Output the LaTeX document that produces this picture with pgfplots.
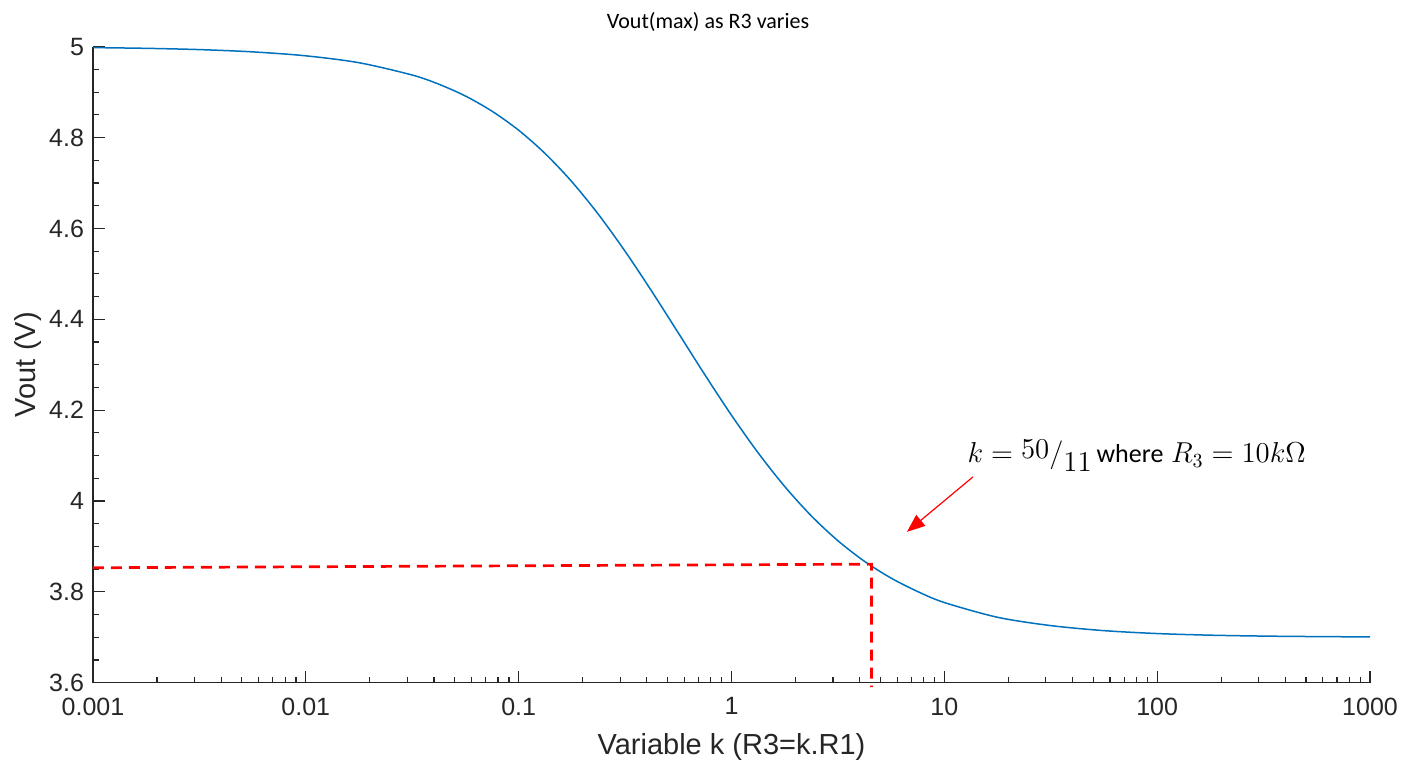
\documentclass[border=0pt]{standalone}
\usepackage{fontspec}
\setmainfont{Liberation Sans}
\newfontfamily\calibri{Carlito}
\usepackage{pgfplots}
\pgfplotsset{compat=1.18}
\usetikzlibrary{arrows.meta}
\definecolor{mblue}{RGB}{0,114,189}
\definecolor{axgray}{RGB}{38,38,38}
\begin{document}
\begin{tikzpicture}
\useasboundingbox (-46.5pt,-41.15pt) rectangle (661.5pt,341.35pt);
\begin{axis}[
  scale only axis,
  width=638.5pt, height=318pt,
  xmode=log,
  xmin=0.001, xmax=1000,
  ymin=3.6, ymax=5,
  axis x line*=bottom, axis y line*=left,
  axis line style={axgray, line width=0.7pt, -},
  tick style={axgray, line width=0.6pt},
  tick align=inside,
  major tick length=6pt, minor tick length=3pt,
  xtick={0.001,0.01,0.1,1,10,100,1000},
  xticklabels={0.001,0.01,0.1,1,10,100,1000},
  ytick={3.6,3.8,4,4.2,4.4,4.6,4.8,5},
  yticklabels={3.6,3.8,4,4.2,4.4,4.6,4.8,5},
  minor y tick num=3,
  ticklabel style={font=\fontsize{12.5}{14}\selectfont, text=axgray},
  xticklabel style={yshift=-4pt},
  yticklabel style={xshift=-1pt},
  xlabel={Variable k (R3=k.R1)},
  ylabel={Vout (V)},
  label style={font=\fontsize{14.5}{16}\selectfont, text=axgray},
  xlabel style={at={(axis description cs:0.5,-0.101)}, anchor=center},
  ylabel style={at={(axis description cs:-0.0509,0.5)}, anchor=center},
  clip=false,
]
\addplot[mblue, line width=0.75pt, smooth] coordinates {
(0.001,4.998) (0.001778,4.9964) (0.003162,4.9936) (0.005623,4.9886)
(0.01,4.9799) (0.017783,4.9647) (0.031623,4.9376) (0.04217,4.9174)
(0.056234,4.8914) (0.074989,4.8580) (0.1,4.8161) (0.13335,4.7645)
(0.17783,4.7027) (0.23714,4.6307) (0.31623,4.5497) (0.4217,4.4618)
(0.56234,4.3700) (0.74989,4.2778) (1,4.1887) (1.33352,4.1061)
(1.77828,4.0319) (2.37137,3.9672) (3.16228,3.9125) (4.21697,3.8671)
(5.62341,3.8302) (7.49894,3.8006) (10,3.7765) (17.7828,3.7440)
(31.6228,3.7257) (56.2341,3.7146) (100,3.7082) (177.828,3.7046)
(316.228,3.7026) (562.34,3.7015) (1000,3.7008)
};
\addplot[red, line width=1.35pt, dash pattern=on 5.5pt off 3.5pt] coordinates {
(0.001,3.853) (4.545,3.861) (4.545,3.59)
};
\draw[red, line width=0.6pt, -{Triangle[length=9pt,width=7pt]}] (axis cs:13.63,4.053) -- (axis cs:6.675,3.932);
\node[anchor=base west, inner sep=0pt, font=\fontsize{14}{16}\selectfont] at (axis cs:12.8,4.084)
  {$k = \raisebox{0.3ex}{$50$}{/}\raisebox{-0.6ex}{$11$}$\hspace{2.5pt}{\calibri\fontsize{13}{15}\selectfont where} $R_3 = 10k\Omega$};
\end{axis}
\node[font=\calibri\fontsize{11}{13}\selectfont] at (307.5pt,330.35pt) {Vout(max) as R3 varies};
\end{tikzpicture}
\end{document}
